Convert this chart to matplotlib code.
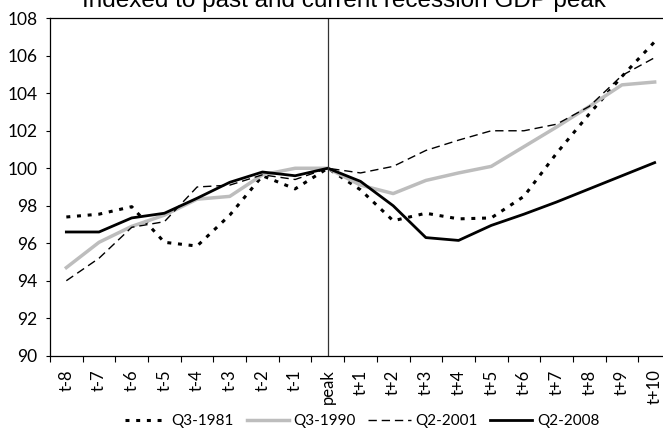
import matplotlib
matplotlib.use('Agg')
import matplotlib.pyplot as plt
import numpy as np

plt.rcParams['font.family'] = ['Lato', 'DejaVu Sans']

quarters = ['t-8', 't-7', 't-6', 't-5', 't-4', 't-3', 't-2', 't-1', 'peak',
            't+1', 't+2', 't+3', 't+4', 't+5', 't+6', 't+7', 't+8', 't+9', 't+10']

q3_1981 = [97.4, 97.55, 97.95, 96.05, 95.85, 97.5, 99.6, 98.9, 100.0,
           98.85, 97.2, 97.6, 97.3, 97.35, 98.5, 100.8, 102.9, 104.9, 106.75]
q3_1990 = [94.7, 96.05, 96.9, 97.5, 98.35, 98.5, 99.65, 100.0, 100.0,
           99.1, 98.65, 99.35, 99.75, 100.1, 101.15, 102.2, 103.3, 104.45, 104.6]
q2_2001 = [94.0, 95.2, 96.85, 97.15, 99.0, 99.1, 99.65, 99.4, 100.0,
           99.75, 100.1, 100.95, 101.5, 102.0, 102.0, 102.35, 103.3, 104.95, 105.9]
q2_2008 = [96.6, 96.6, 97.35, 97.6, 98.4, 99.25, 99.8, 99.6, 100.0,
           99.3, 98.0, 96.3, 96.15, 96.95, 97.55, 98.2, 98.9, 99.6, 100.3]

peak_pos = quarters.index('peak')

fig = plt.figure(figsize=(6.63, 4.32), dpi=100)
ax = fig.add_axes([50 / 663, 1 - 355.7 / 432, 621 / 663, (355.7 - 18.3) / 432])

x = np.arange(len(quarters))
ax.plot(x, q3_1981, color='black', lw=2.2, linestyle=(0, (1.3, 2.2)), label='Q3-1981')
ax.plot(x, q3_1990, color='#bdbdbd', lw=2.5, label='Q3-1990')
ax.plot(x, q2_2001, color='black', lw=1.0, linestyle=(0, (6, 3.5)), label='Q2-2001')
ax.plot(x, q2_2008, color='black', lw=2.0, label='Q2-2008')

ax.axvline(peak_pos, color='#333333', lw=0.9)

ax.set_xlim(-0.5, len(quarters) - 0.5)
ax.set_ylim(90, 108)
ax.set_yticks(np.arange(90, 109, 2))
ax.tick_params(axis='y', direction='out', length=3, width=0.8, labelsize=12.5, pad=6)

ax.set_xticks(x)
ax.set_xticklabels(quarters, rotation=90, fontsize=12)
ax.tick_params(axis='x', which='major', length=0, pad=10)
ax.set_xticks(np.arange(-0.5, len(quarters)), minor=True)
ax.tick_params(axis='x', which='minor', direction='out', length=4.3, width=0.8)

for side in ['top', 'left', 'bottom']:
    ax.spines[side].set_linewidth(0.9)
ax.spines['right'].set_visible(False)

fig.text(344 / 663, 1 - 7.5 / 432, 'Indexed to past and current recession GDP peak',
         ha='center', va='baseline', fontsize=17.5, family=['Liberation Sans', 'DejaVu Sans'])

ax.legend(loc='center', bbox_to_anchor=(362 / 663, 1 - 421 / 432),
          bbox_transform=fig.transFigure, ncol=4, frameon=False, fontsize=11,
          handlelength=2.75, columnspacing=0.85, handletextpad=0.3,
          borderpad=0, borderaxespad=0)

fig.savefig('out.png', dpi=100)
